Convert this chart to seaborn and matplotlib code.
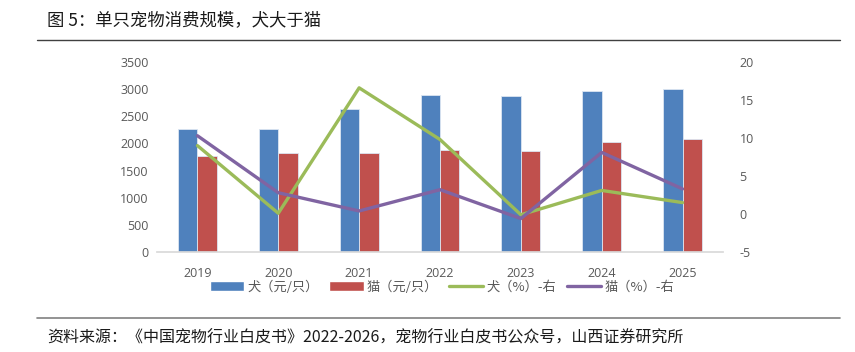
import numpy as np
import pandas as pd
import matplotlib.pyplot as plt
import seaborn as sns
from matplotlib.patches import Patch
from matplotlib.lines import Line2D

# Set style
sns.set_theme(style="white")
plt.rcParams['font.family'] = ['Noto Sans CJK SC', 'DejaVu Sans']
plt.rcParams['axes.unicode_minus'] = False

# Data
years = ["2019", "2020", "2021", "2022", "2023", "2024", "2025"]
dog_spend = [2262, 2265, 2634, 2886, 2880, 2966, 3008]
cat_spend = [1768, 1818, 1826, 1879, 1866, 2026, 2087]
dog_growth = [9.0, 0.1, 16.6, 9.8, -0.1, 3.1, 1.5]
cat_growth = [10.3, 2.8, 0.4, 3.2, -0.6, 8.1, 3.3]
series_names = ["犬（元/只）", "猫（元/只）", "犬（%）-右", "猫（%）-右"]

blue, red, green, purple = "#4F81BD", "#C0504D", "#9BBB59", "#8064A2"
grey = "#595959"
num_font = 'Open Sans'

bars = pd.DataFrame({
    "year": years * 2,
    "value": dog_spend + cat_spend,
    "series": [series_names[0]] * len(years) + [series_names[1]] * len(years),
})

fig = plt.figure(figsize=(8.55, 3.52), dpi=100)
ax = fig.add_axes([157 / 855, 1 - 252 / 352, 566 / 855, 190 / 352])

sns.barplot(data=bars, x="year", y="value", hue="series", order=years,
            palette=[blue, red], width=0.48, gap=0, saturation=1,
            edgecolor="#dce6f2", linewidth=0.6, legend=False, ax=ax)
ax.set_xlim(-0.5, len(years) - 0.5)
ax.set_ylim(0, 3500)
ax.set_yticks(np.arange(0, 3501, 500))
ax.set_xlabel("")
ax.set_ylabel("")
for s in ["top", "right", "left"]:
    ax.spines[s].set_visible(False)
ax.spines["bottom"].set_color("#d9d9d9")
ax.tick_params(length=0, colors=grey, labelsize=9, pad=6, labelfontfamily=num_font)
ax.tick_params(axis="x", pad=11)

# Growth lines on right axis
ax2 = ax.twinx()
growth = pd.DataFrame({"pos": range(len(years)), "dog": dog_growth, "cat": cat_growth})
sns.lineplot(data=growth, x="pos", y="dog", color=green, lw=2.4, ax=ax2)
sns.lineplot(data=growth, x="pos", y="cat", color=purple, lw=2.4, ax=ax2)
ax2.set_ylim(-5, 20)
ax2.set_yticks(np.arange(-5, 21, 5))
ax2.set_xlim(-0.5, len(years) - 0.5)
ax2.set_ylabel("")
ax2.set_xlabel("")
for s in ["top", "right", "left", "bottom"]:
    ax2.spines[s].set_visible(False)
ax2.tick_params(length=0, colors=grey, labelsize=9, pad=12, labelfontfamily=num_font)

# Legend
handles = [
    Patch(facecolor=blue), Patch(facecolor=red),
    Line2D([], [], color=green, lw=2.4), Line2D([], [], color=purple, lw=2.4),
]
fig.legend(handles, series_names, loc="center", bbox_to_anchor=(442 / 855, 1 - 287 / 352),
           ncol=4, frameon=False, fontsize=9.5, handlelength=2.6, handleheight=0.75,
           handletextpad=0.25, columnspacing=0.8, labelcolor=grey)

# Title, rules and source
fig.text(47 / 855, 1 - 20 / 352, "图 5：单只宠物消费规模，犬大于猫", fontsize=12.5,
         color="#1a1a1a", va="center", ha="left")
fig.add_artist(Line2D([37 / 855, 840 / 855], [1 - 40 / 352] * 2, color="#404040", lw=1))
fig.add_artist(Line2D([37 / 855, 840 / 855], [1 - 318 / 352] * 2, color="#808080", lw=1.2))
fig.text(47 / 855, 1 - 338 / 352, "资料来源：《中国宠物行业白皮书》2022-2026，宠物行业白皮书公众号，山西证券研究所",
         fontsize=11.5, color="#1a1a1a", va="center", ha="left")

fig.savefig("out.png", dpi=100)
